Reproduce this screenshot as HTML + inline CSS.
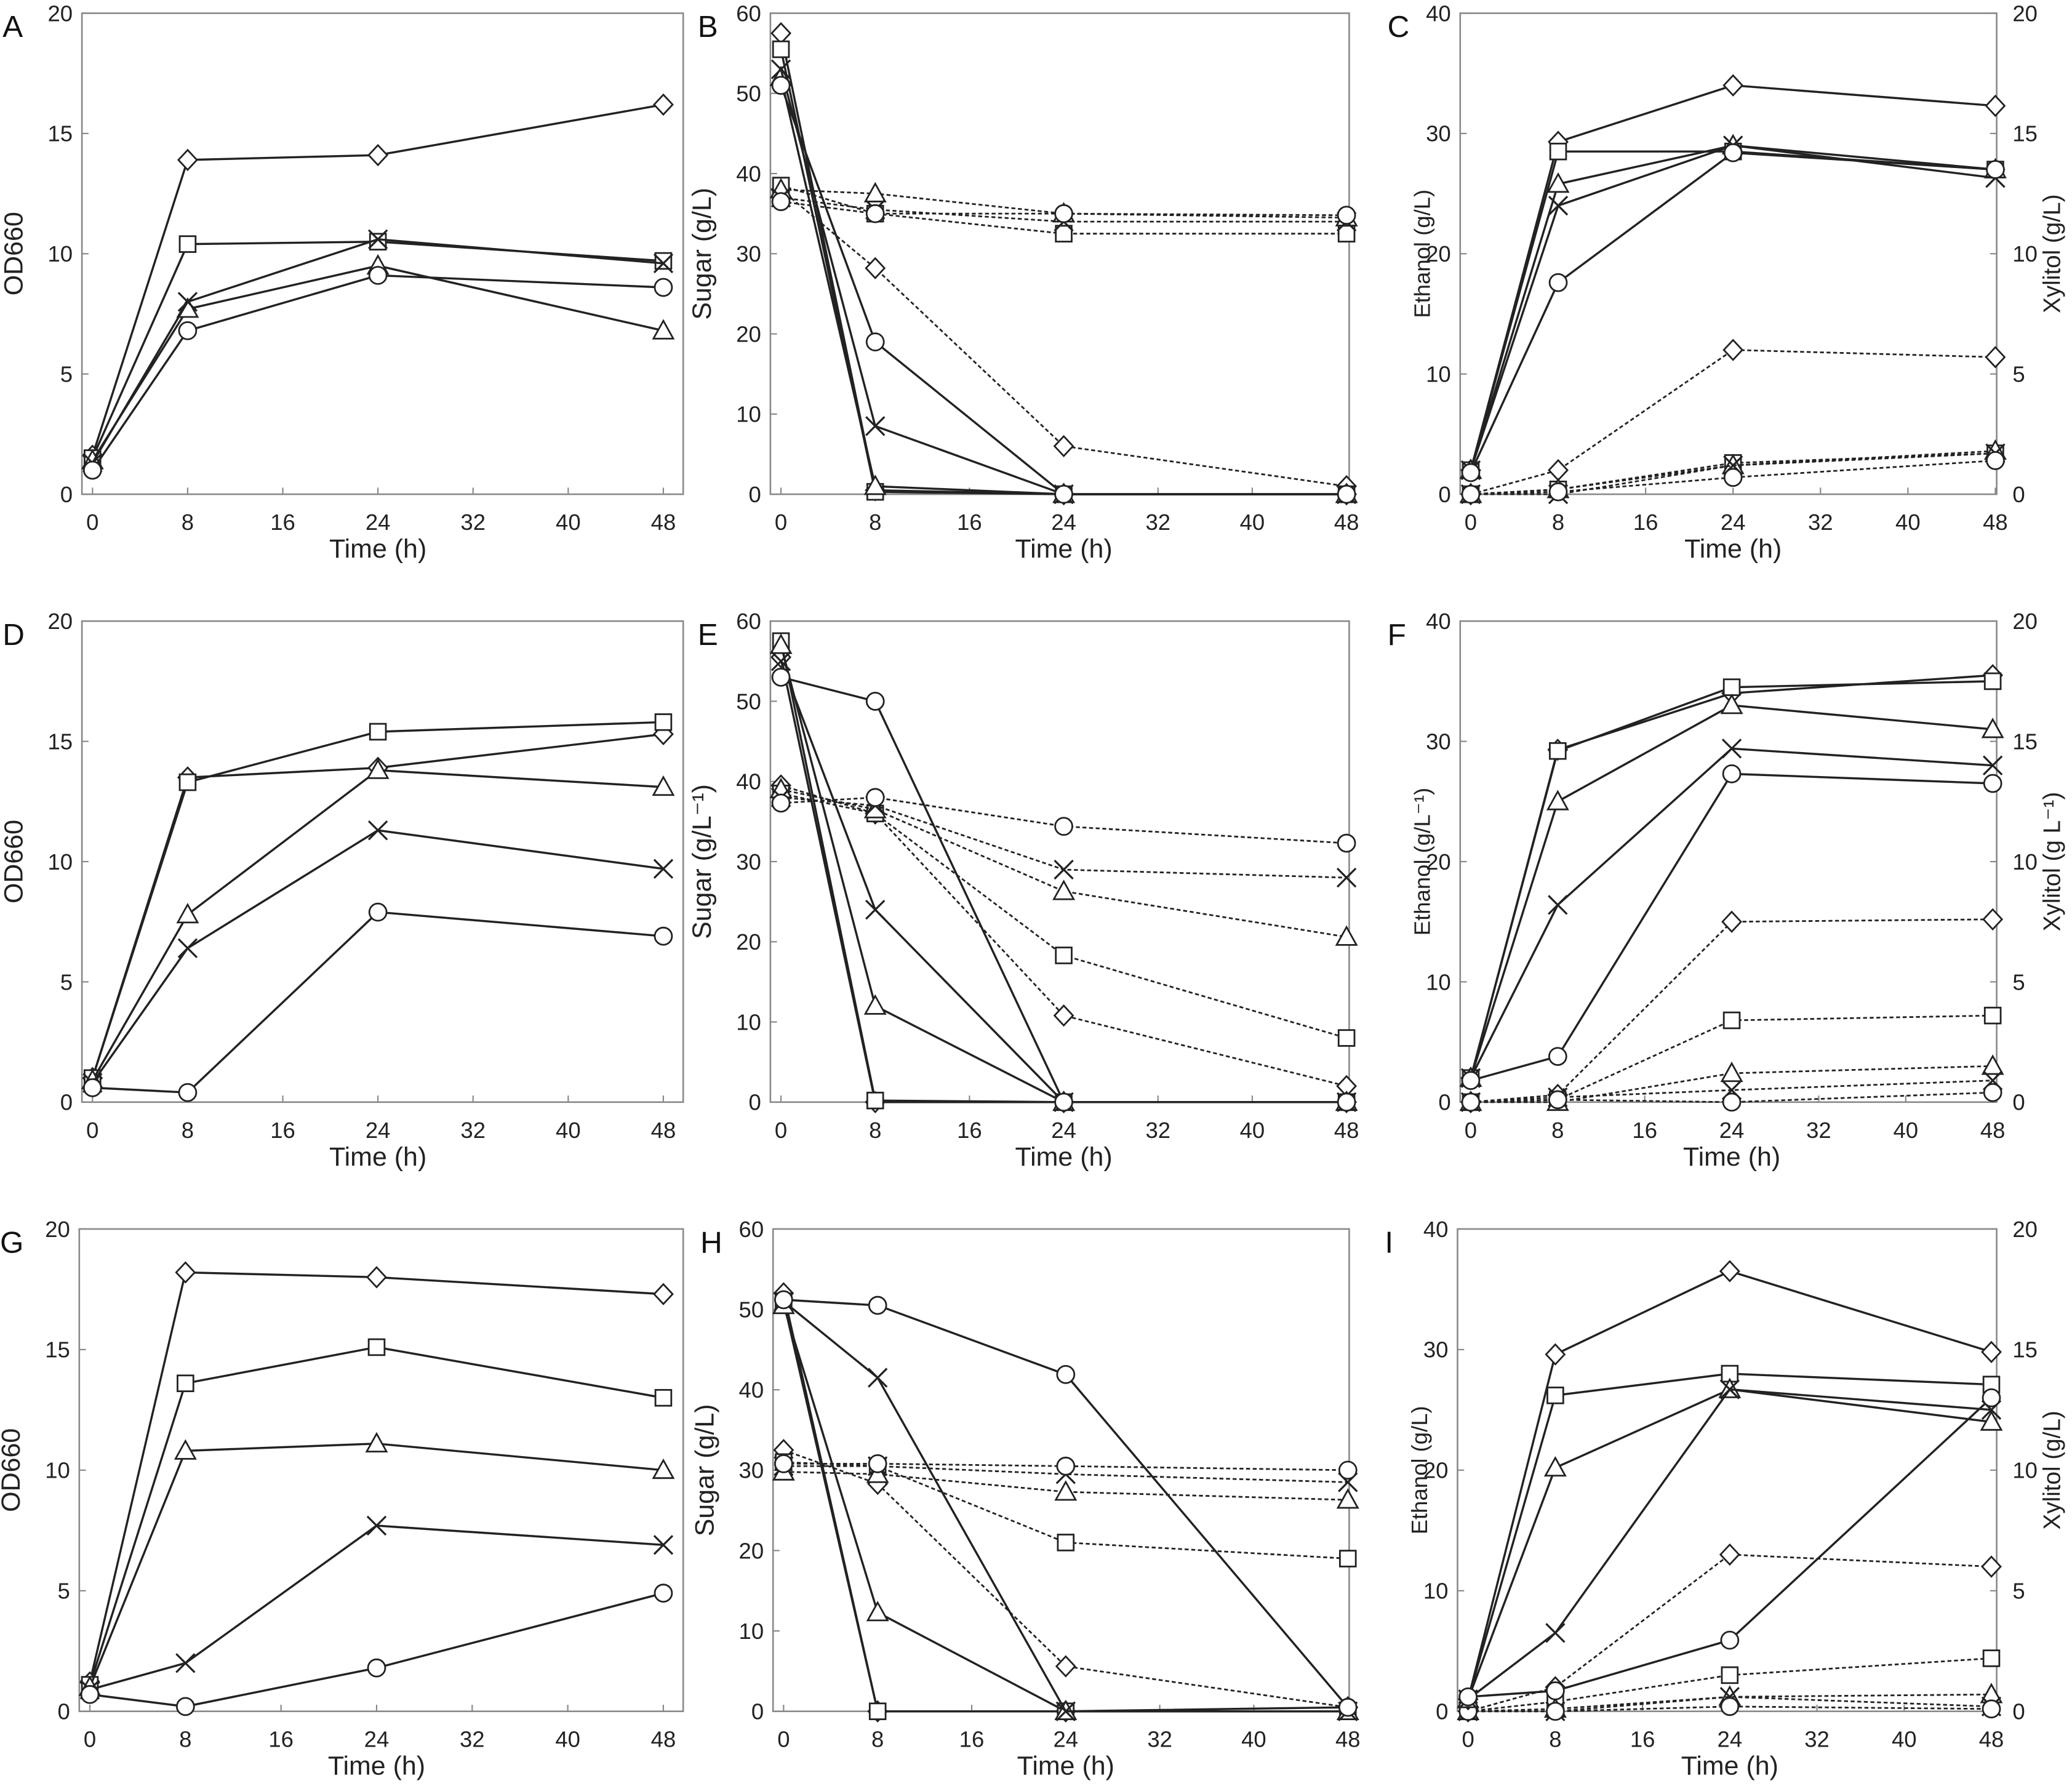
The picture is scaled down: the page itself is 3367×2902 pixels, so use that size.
<!DOCTYPE html>
<html><head><meta charset="utf-8">
<style>
html,body{margin:0;padding:0;background:#fff;}
svg{display:block;font-family:"Liberation Sans",Arial,sans-serif;}
</style></head>
<body>
<svg id="fig" width="3367" height="2902" viewBox="0 0 1568 1351.5" preserveAspectRatio="none" xmlns="http://www.w3.org/2000/svg"></svg>
<script>
const times = [0, 8, 24, 48];
const xTicks = [0, 8, 16, 24, 32, 40, 48];
const odTicks = [0, 5, 10, 15, 20];
const sugarTicks = [0, 10, 20, 30, 40, 50, 60];
const ethTicks = [0, 10, 20, 30, 40];
const xylTicks = [0, 5, 10, 15, 20];
const markerOrder = ['diamond', 'square', 'triangle', 'cross', 'circle'];

// Panel A (OD660)
const aDiamond = [1.6, 13.9, 14.1, 16.2];
const aSquare = [1.5, 10.4, 10.5, 9.7];
const aTriangle = [1.4, 7.7, 9.5, 6.8];
const aCross = [1.3, 8.0, 10.6, 9.6];
const aCircle = [1.0, 6.8, 9.1, 8.6];
// Panel B (sugar) solid = glucose, dashed = xylose
const bSolidDiamond = [57.5, 0.5, 0, 0];
const bSolidSquare = [55.5, 0.3, 0, 0];
const bSolidTriangle = [52, 1, 0, 0];
const bSolidCross = [53, 8.5, 0, 0];
const bSolidCircle = [51, 19, 0, 0];
const bDashDiamond = [38, 28.2, 6, 1];
const bDashSquare = [38.5, 35, 32.5, 32.5];
const bDashTriangle = [38, 37.5, 35, 34.5];
const bDashCross = [37, 35.5, 34, 34];
const bDashCircle = [36.5, 35, 35, 34.8];
// Panel C ethanol (solid) / xylitol (dashed)
const cSolidDiamond = [2, 29.3, 34, 32.3];
const cSolidSquare = [2, 28.5, 28.5, 27];
const cSolidTriangle = [2, 25.8, 29, 27];
const cSolidCross = [2, 24, 29, 26.3];
const cSolidCircle = [1.8, 17.6, 28.4, 27];
const cDashDiamond = [0, 1, 6, 5.7];
const cDashSquare = [0, 0.2, 1.3, 1.7];
const cDashTriangle = [0, 0.2, 1.2, 1.8];
const cDashCross = [0, 0, 1.2, 1.7];
const cDashCircle = [0, 0.1, 0.7, 1.4];
// Panel D
const dDiamond = [1, 13.5, 13.9, 15.3];
const dSquare = [1, 13.3, 15.4, 15.8];
const dTriangle = [0.9, 7.8, 13.8, 13.1];
const dCross = [0.8, 6.4, 11.3, 9.7];
const dCircle = [0.6, 0.4, 7.9, 6.9];
// Panel E
const eSolidDiamond = [55.5, 0, 0, 0];
const eSolidSquare = [57.5, 0.2, 0, 0];
const eSolidTriangle = [57, 12, 0, 0];
const eSolidCross = [55, 24, 0, 0];
const eSolidCircle = [53, 50, 0, 0];
const eDashDiamond = [39.5, 36, 10.8, 2];
const eDashSquare = [38.5, 36, 18.3, 8];
const eDashTriangle = [39, 36.5, 26.3, 20.6];
const eDashCross = [38, 37, 29, 28];
const eDashCircle = [37.3, 38, 34.4, 32.3];
// Panel F
const fSolidDiamond = [2, 29.3, 34, 35.5];
const fSolidSquare = [2, 29.2, 34.5, 35];
const fSolidTriangle = [2, 25, 33, 31];
const fSolidCross = [2, 16.4, 29.4, 28];
const fSolidCircle = [1.8, 3.8, 27.3, 26.5];
const fDashDiamond = [0, 0.3, 7.5, 7.6];
const fDashSquare = [0, 0.1, 3.4, 3.6];
const fDashTriangle = [0, 0, 1.2, 1.5];
const fDashCross = [0, 0.2, 0.5, 0.9];
const fDashCircle = [0, 0.1, 0, 0.4];
// Panel G
const gDiamond = [1.2, 18.2, 18, 17.3];
const gSquare = [1.1, 13.6, 15.1, 13];
const gTriangle = [1, 10.8, 11.1, 10];
const gCross = [0.9, 2, 7.7, 6.9];
const gCircle = [0.7, 0.2, 1.8, 4.9];
// Panel H
const hSolidDiamond = [52, 0, 0, 0.5];
const hSolidSquare = [51, 0, 0, 0];
const hSolidTriangle = [50.5, 12.3, 0, 0];
const hSolidCross = [51, 41.5, 0, 0];
const hSolidCircle = [51.2, 50.5, 41.9, 0.5];
const hDashDiamond = [32.5, 28.3, 5.6, 0.5];
const hDashSquare = [31, 30.5, 21, 19];
const hDashTriangle = [29.8, 29.5, 27.3, 26.3];
const hDashCross = [30.5, 30.5, 29.5, 28.5];
const hDashCircle = [30.8, 30.8, 30.5, 30];
// Panel I
const iSolidDiamond = [1, 29.6, 36.5, 29.8];
const iSolidSquare = [1, 26.2, 28, 27.1];
const iSolidTriangle = [1, 20.2, 26.7, 24];
const iSolidCross = [1, 6.5, 26.7, 25];
const iSolidCircle = [1.2, 1.7, 5.9, 26];
const iDashDiamond = [0, 1, 6.5, 6];
const iDashSquare = [0, 0.4, 1.5, 2.2];
const iDashTriangle = [0, 0.1, 0.6, 0.7];
const iDashCross = [0, 0, 0.6, 0.2];
const iDashCircle = [0, 0, 0.2, 0.1];

const NS = 'http://www.w3.org/2000/svg';
const svg = document.getElementById('fig');
function mk(tag, attrs, parent) {
  const e = document.createElementNS(NS, tag);
  for (const k in attrs) e.setAttribute(k, attrs[k]);
  (parent || svg).appendChild(e);
  return e;
}

const panels = [
  {id:'A', x0:70, x48:502, L:62, R:517, T:10, B:374, yl:'OD660', ticks:odTicks, max:20,
   solid:[aDiamond,aSquare,aTriangle,aCross,aCircle], dash:null},
  {id:'B', x0:591, x48:1019, L:583, R:1021, T:10, B:374, yl:'Sugar (g/L)', ticks:sugarTicks, max:60,
   solid:[bSolidDiamond,bSolidSquare,bSolidTriangle,bSolidCross,bSolidCircle],
   dash:[bDashDiamond,bDashSquare,bDashTriangle,bDashCross,bDashCircle], dashSame:true},
  {id:'C', x0:1113, x48:1510, L:1105, R:1511, T:10, B:374, yl:'Ethanol (g/L)', ticks:ethTicks, max:40,
   solid:[cSolidDiamond,cSolidSquare,cSolidTriangle,cSolidCross,cSolidCircle],
   dash:[cDashDiamond,cDashSquare,cDashTriangle,cDashCross,cDashCircle], right:'Xylitol (g/L)'},
  {id:'D', x0:70, x48:502, L:62, R:517, T:470, B:834, yl:'OD660', ticks:odTicks, max:20,
   solid:[dDiamond,dSquare,dTriangle,dCross,dCircle], dash:null},
  {id:'E', x0:591, x48:1019, L:583, R:1021, T:470, B:834, yl:'Sugar (g/L\u207B\u00B9)', ticks:sugarTicks, max:60,
   solid:[eSolidDiamond,eSolidSquare,eSolidTriangle,eSolidCross,eSolidCircle],
   dash:[eDashDiamond,eDashSquare,eDashTriangle,eDashCross,eDashCircle], dashSame:true},
  {id:'F', x0:1113, x48:1508, L:1105, R:1511, T:470, B:834, yl:'Ethanol (g/L\u207B\u00B9)', ticks:ethTicks, max:40,
   solid:[fSolidDiamond,fSolidSquare,fSolidTriangle,fSolidCross,fSolidCircle],
   dash:[fDashDiamond,fDashSquare,fDashTriangle,fDashCross,fDashCircle], right:'Xylitol (g L\u207B\u00B9)'},
  {id:'G', x0:68, x48:502, L:60, R:517, T:930, B:1295, yl:'OD660', ticks:odTicks, max:20,
   solid:[gDiamond,gSquare,gTriangle,gCross,gCircle], dash:null},
  {id:'H', x0:593, x48:1020, L:585, R:1021, T:930, B:1295, yl:'Sugar (g/L)', ticks:sugarTicks, max:60,
   solid:[hSolidDiamond,hSolidSquare,hSolidTriangle,hSolidCross,hSolidCircle],
   dash:[hDashDiamond,hDashSquare,hDashTriangle,hDashCross,hDashCircle], dashSame:true},
  {id:'I', x0:1111, x48:1507, L:1103, R:1511, T:930, B:1295, yl:'Ethanol (g/L)', ticks:ethTicks, max:40,
   solid:[iSolidDiamond,iSolidSquare,iSolidTriangle,iSolidCross,iSolidCircle],
   dash:[iDashDiamond,iDashSquare,iDashTriangle,iDashCross,iDashCircle], right:'Xylitol (g/L)'}
];

function marker(g, type, x, y) {
  const st = {fill:'#fff', stroke:'#222', 'stroke-width':1.3};
  let e;
  if (type === 'circle') e = mk('circle', Object.assign({cx:x, cy:y, r:6.5}, st), g);
  else if (type === 'square') e = mk('rect', Object.assign({x:x-6, y:y-6, width:12, height:12}, st), g);
  else if (type === 'diamond') e = mk('polygon', Object.assign({points:`${x},${y-7.5} ${x+7},${y} ${x},${y+7.5} ${x-7},${y}`}, st), g);
  else if (type === 'triangle') e = mk('polygon', Object.assign({points:`${x},${y-7.5} ${x+7.5},${y+6} ${x-7.5},${y+6}`}, st), g);
  else e = mk('path', {d:`M${x-7},${y-7}L${x+7},${y+7}M${x+7},${y-7}L${x-7},${y+7}`, stroke:'#222', 'stroke-width':1.5, fill:'none'}, g);
  
  
}

panels.forEach(p => {
  const g = mk('g', {});
  
  
  const xs = t => p.x0 + (p.x48 - p.x0) * t / 48;
  const ys = v => p.B - (p.B - p.T) * v / p.max;
  const ys2 = v => p.B - (p.B - p.T) * v / 20;
  const frame = mk('rect', {x:p.L, y:p.T, width:p.R-p.L, height:p.B-p.T, fill:'none', stroke:'#888', 'stroke-width':1.2}, g);
  
  
  // x ticks
  xTicks.forEach(t => {
    mk('line', {x1:xs(t), x2:xs(t), y1:p.B, y2:p.B-5, stroke:'#888'}, g);
    const tx = mk('text', {x:xs(t), y:p.B+27, 'font-size':17, 'text-anchor':'middle', fill:'#222'}, g);
    tx.textContent = t;
    
    
  });
  const xt = mk('text', {x:(p.x0+p.x48)/2, y:p.B+48, 'font-size':20, 'text-anchor':'middle', fill:'#222'}, g);
  xt.textContent = 'Time (h)';
  
  
  // y ticks
  p.ticks.forEach(v => {
    mk('line', {x1:p.L, x2:p.L+5, y1:ys(v), y2:ys(v), stroke:'#888'}, g);
    const tx = mk('text', {x:p.L-7, y:ys(v)+6, 'font-size':17, 'text-anchor':'end', fill:'#222'}, g);
    tx.textContent = v;
    
    
  });
  const cy = (p.T + p.B) / 2;
  const yx = p.L - (p.max === 40 ? 23 : 45);
  const yt = mk('text', {x:yx, y:cy, 'font-size':p.max===40?17:20, 'text-anchor':'middle', fill:'#222', transform:`rotate(-90 ${yx} ${cy})`}, g);
  yt.textContent = p.yl;
  
  
  if (p.right) {
    xylTicks.forEach(v => {
      mk('line', {x1:p.R, x2:p.R-5, y1:ys2(v), y2:ys2(v), stroke:'#888'}, g);
      const tx = mk('text', {x:p.R+12, y:ys2(v)+6, 'font-size':17, 'text-anchor':'start', fill:'#222'}, g);
      tx.textContent = v;
      
      
    });
    const rx = p.R + 48;
    const rt = mk('text', {x:rx, y:cy, 'font-size':18, 'text-anchor':'middle', fill:'#222', transform:`rotate(-90 ${rx} ${cy})`}, g);
    rt.textContent = p.right;
    
    
  }
  const lt = mk('text', {x:p.L - (p.id==='A'||p.id==='D'||p.id==='G' ? 60 : 55), y:p.T+18, 'font-size':23, fill:'#111'}, g);
  lt.textContent = p.id;
  
  
  // series
  const draw = (arr, dashed, scale) => {
    arr.forEach((s, i) => {
      const pts = s.map((v, j) => [xs(times[j]), scale(v)]);
      const pl = mk('polyline', {points:pts.map(q => q.join(',')).join(' '), fill:'none', stroke:'#222', 'stroke-width':dashed?1.3:1.6, 'stroke-dasharray':dashed?'3,2':'none'}, g);
      
      
      pts.forEach(q => marker(g, markerOrder[i], q[0], q[1]));
    });
  };
  if (p.dash) draw(p.dash, true, p.dashSame ? ys : ys2);
  draw(p.solid, false, ys);
});
</script>
</body></html>
